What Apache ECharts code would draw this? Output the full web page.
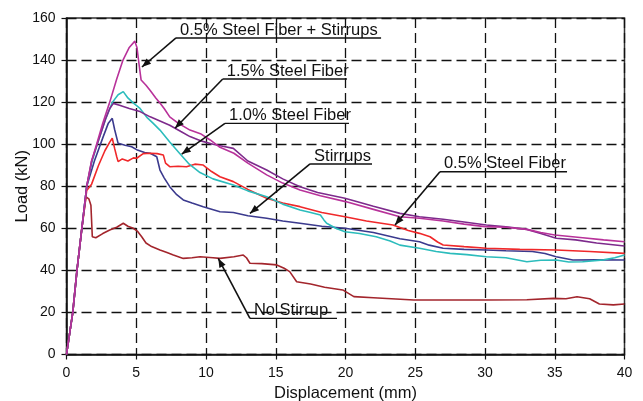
<!DOCTYPE html>
<html>
<head>
<meta charset="utf-8">
<script src="https://cdn.jsdelivr.net/npm/echarts@6/dist/echarts.min.js"></script>
<style>
html,body{margin:0;padding:0;background:#fff;}
#chart{width:643px;height:401px;}
</style>
</head>
<body>
<div id="chart"></div>
<script>
// ---- Data (displacement mm, load kN) ----
const xTicks = [0, 5, 10, 15, 20, 25, 30, 35, 40];
const yTicks = [0, 20, 40, 60, 80, 100, 120, 140, 160];

const sfStirrups05 = [[0,0],[0.45,20],[0.75,40],[1.1,60],[1.45,80],[1.8,92],[2.16,100],[2.6,110],[3.1,120],[3.6,131],[4.05,140],[4.5,146],[4.9,149],[5.05,146],[5.2,138],[5.35,130.5],[5.7,128],[6.0,125.5],[6.4,122],[6.7,119.6],[7.0,117],[7.4,113],[8.0,110],[8.85,106.7],[9.6,105],[10.3,102],[11,98.5],[12,95.7],[13,91],[14.35,85.4],[15.5,81.5],[16.74,78.2],[18.2,75.5],[20,72.7],[22,69],[23.9,65.5],[25.3,64.8],[27,63.5],[28.5,62],[30,60.8],[31.5,60.5],[33,59.5],[34,58],[35,56.8],[37,55.5],[38.5,54.5],[40,53.6]];

const sf15 = [[0,0],[0.45,20],[0.75,40],[1.1,60],[1.45,80],[1.8,92],[2.2,100],[2.8,112],[3.1,117],[3.36,119.4],[3.8,118.5],[4.5,117],[5.27,115.5],[6,113],[6.7,111],[7.4,109],[8.2,106],[8.85,103.6],[9.57,101.7],[10.5,100],[11.2,99],[11.96,98],[13,92],[14.35,87.7],[15.5,83.5],[16.74,79.8],[18,77],[19.96,74.3],[22,70.5],[23.9,67.1],[25.3,65.5],[27,64.3],[28.5,63],[30.1,61.6],[31.5,60.7],[33,59.5],[34,57.5],[35.1,55.3],[36.5,54.5],[38,53],[40,51.6]];

const sf10 = [[0,0],[0.45,20],[0.75,40],[1.1,60],[1.45,80],[1.8,91],[2.2,100],[2.8,112],[3.3,120],[3.7,123.5],[4.07,125],[4.4,122],[4.8,119.5],[5.27,117],[5.8,112.5],[6.2,110],[6.7,106.7],[7.4,101],[8.1,95.7],[8.8,90.5],[9.57,86.5],[10.5,83.5],[11.96,80.6],[13,77.8],[14.35,75],[15.5,71.5],[16.74,68.7],[17.5,67.5],[18.2,66.3],[18.45,64],[18.65,62.4],[19.3,60],[19.96,58.4],[21,57.5],[22.2,56],[23.2,54],[23.9,52],[25.3,50.5],[26.5,49],[27.5,48.1],[28.7,47.5],[30.1,46.5],[31.5,46],[33,44.1],[34,44.8],[35.1,44.9],[36,44],[37,44.1],[38.5,45],[39.3,46],[40,47.3]];

const sf05 = [[0,0],[0.45,20],[0.75,40],[1.1,60],[1.45,78],[1.8,81],[2.3,90],[2.76,97],[3.1,101],[3.28,102.8],[3.45,98],[3.6,94],[3.7,91.7],[4.0,93],[4.4,92],[4.8,93.5],[5.03,93.3],[5.5,95.5],[6,95.7],[6.5,95.5],[6.94,94.9],[7.1,91],[7.4,89.3],[8,89.5],[8.6,89.3],[9.2,90.5],[9.8,90.1],[10.4,87],[11,84.5],[11.96,82.2],[13,78.5],[14.35,74.3],[15.5,72],[16.74,70.3],[18.3,67.5],[19.96,65.5],[21.5,63.5],[23.4,61.6],[24.5,59],[25.3,57.6],[26.06,56],[26.6,53.5],[27,52.1],[28.5,51.3],[30.1,50.5],[32.5,50],[35.1,49.7],[37.5,49],[40,48.1]];

const stirrups = [[0,0],[0.45,20],[0.75,40],[1.1,60],[1.45,80],[2.0,92],[2.6,103],[3.0,110],[3.28,112.3],[3.45,107],[3.7,100.4],[4.2,99.5],[4.67,98.8],[5.03,97.4],[5.6,96],[6,95.7],[6.47,94],[6.7,87.7],[7.0,84],[7.4,79.8],[7.9,76],[8.37,73.5],[9.0,72],[9.8,70.3],[11,67.9],[11.96,67.5],[13,66],[14.35,64.8],[15.5,63.5],[16.74,62.4],[18.3,61],[19.96,60],[22,58],[23.9,55],[25.3,53.6],[26,52],[27,50.5],[28.5,50],[30.1,49.7],[31.5,49.3],[33.4,49],[34.3,48],[35.1,46.5],[36.3,44.9],[38,45],[40,44.9]];

const noStirrup = [[0,0],[0.45,20],[0.75,40],[1.1,60],[1.4,75],[1.6,74],[1.75,71],[1.85,56],[2.1,55.5],[2.6,57.5],[3.1,59.2],[3.6,60.5],[4.07,62.4],[4.4,61],[4.79,60],[5.1,58.5],[5.39,56],[5.7,53],[6.1,51.3],[6.7,49.7],[7.2,48.5],[7.66,47.3],[8.37,45.7],[9.0,46],[9.57,46.5],[10.5,46],[11,45.7],[12,46.5],[12.67,47.3],[12.9,46],[13.15,43.4],[14,43.2],[15.07,42.6],[15.6,41],[16,39.4],[16.5,34.6],[17.5,33.5],[18.5,32],[19.8,30.7],[20.6,27.5],[22,27],[24.9,25.9],[27,25.9],[30.1,25.9],[33,26],[34.9,26.7],[35.8,26.5],[36.6,27.5],[37.5,26.5],[38.2,24],[39.2,23.6],[40,24]];

const seriesNames = ['No Stirrup','Stirrups','0.5% Steel Fiber','1.0% Steel Fiber','1.5% Steel Fiber','0.5% Steel Fiber + Stirrups'];
const seriesData = [noStirrup, stirrups, sf05, sf10, sf15, sfStirrups05];
const seriesColors = ['#a3252c','#3b3a8e','#f0282a','#2cbcbc','#7d2a8c','#b8329a'];

// annotation labels: text, underline start (data), underline end x, arrow tip (data)
const annoText = ['0.5% Steel Fiber + Stirrups','1.5% Steel Fiber','1.0% Steel Fiber','Stirrups','0.5% Steel Fiber','No Stirrup'];
const annoStart = [[7.85,150.5],[11.2,131],[11.36,109.9],[17.46,90.6],[26.77,86.9],[13.15,17.2]];
const annoEndX = [22.55,20.1,20.25,21.9,35.88,19.39];
const annoTip = [[5.41,136.7],[7.78,107.6],[8.26,95.3],[13.15,67.1],[23.55,61.6],[10.88,45.7]];

const chart = echarts.init(document.getElementById('chart'), null, {renderer:'canvas'});
const FONT = 'Liberation Sans, Arial, sans-serif';

const option = {
  animation: false,
  backgroundColor: '#ffffff',
  grid: {left: 66.5, right: 18.5, top: 18, bottom: 46.5, containLabel: false, outerBoundsMode: 'none',
         show: true, borderColor: '#333', borderWidth: 1.5, backgroundColor: 'transparent'},
  xAxis: {
    type: 'value', min: xTicks[0], max: xTicks[xTicks.length-1], interval: 5,
    name: 'Displacement (mm)', nameLocation: 'middle', nameGap: 30, nameMoveOverlap: false,
    nameTextStyle: {fontFamily: FONT, fontSize: 16.5, color: '#111'},
    axisLine: {lineStyle: {color: '#111', width: 1.5}},
    axisTick: {show: true, inside: false, length: 5, lineStyle: {color: '#111', width: 1.2}},
    axisLabel: {fontFamily: FONT, fontSize: 14, color: '#111', margin: 12},
    splitLine: {show: true, lineStyle: {color: '#111', width: 1.3, type: [10,5]}}
  },
  yAxis: {
    type: 'value', min: yTicks[0], max: yTicks[yTicks.length-1], interval: 20,
    name: 'Load (kN)', nameLocation: 'middle', nameGap: 36, nameRotate: 90, nameMoveOverlap: false,
    nameTextStyle: {fontFamily: FONT, fontSize: 16.5, color: '#111'},
    axisLine: {show: true, lineStyle: {color: '#111', width: 1.5}},
    axisTick: {show: true, inside: false, length: 5, lineStyle: {color: '#111', width: 1.2}},
    axisLabel: {fontFamily: FONT, fontSize: 14, color: '#111', margin: 11},
    splitLine: {show: true, lineStyle: {color: '#111', width: 1.3, type: [10,5]}}
  },
  series: seriesData.map((d, i) => ({
    name: seriesNames[i], type: 'line', data: d, showSymbol: false, symbol: 'none',
    lineStyle: {color: seriesColors[i], width: 1.6}, z: 3 + i
  }))
};
chart.setOption(option);

// annotations with leader arrows, positioned from data coordinates
const g = [];
for (let i = 0; i < annoText.length; i++) {
  const s = chart.convertToPixel({gridIndex: 0}, annoStart[i]);
  const e = chart.convertToPixel({gridIndex: 0}, [annoEndX[i], annoStart[i][1]]);
  const t = chart.convertToPixel({gridIndex: 0}, annoTip[i]);
  g.push({type: 'line', shape: {x1: s[0], y1: s[1], x2: e[0], y2: e[1]}, style: {stroke: '#111', lineWidth: 1.4}, z: 50});
  g.push({type: 'line', shape: {x1: s[0], y1: s[1], x2: t[0], y2: t[1]}, style: {stroke: '#111', lineWidth: 1.6}, z: 50});
  const ang = Math.atan2(t[1] - s[1], t[0] - s[0]);
  const L = 9, W = 3.5;
  const bx = t[0] - L * Math.cos(ang), by = t[1] - L * Math.sin(ang);
  g.push({type: 'polygon', shape: {points: [[t[0], t[1]], [bx + W * Math.sin(ang), by - W * Math.cos(ang)], [bx - W * Math.sin(ang), by + W * Math.cos(ang)]]}, style: {fill: '#111'}, z: 51});
  g.push({type: 'text', x: s[0] + 4, y: s[1] - 8, style: {text: annoText[i], font: '16.5px ' + FONT, fill: '#111', textAlign: 'left', textVerticalAlign: 'middle'}, z: 52});
}
chart.setOption({graphic: g});
</script>
</body>
</html>
